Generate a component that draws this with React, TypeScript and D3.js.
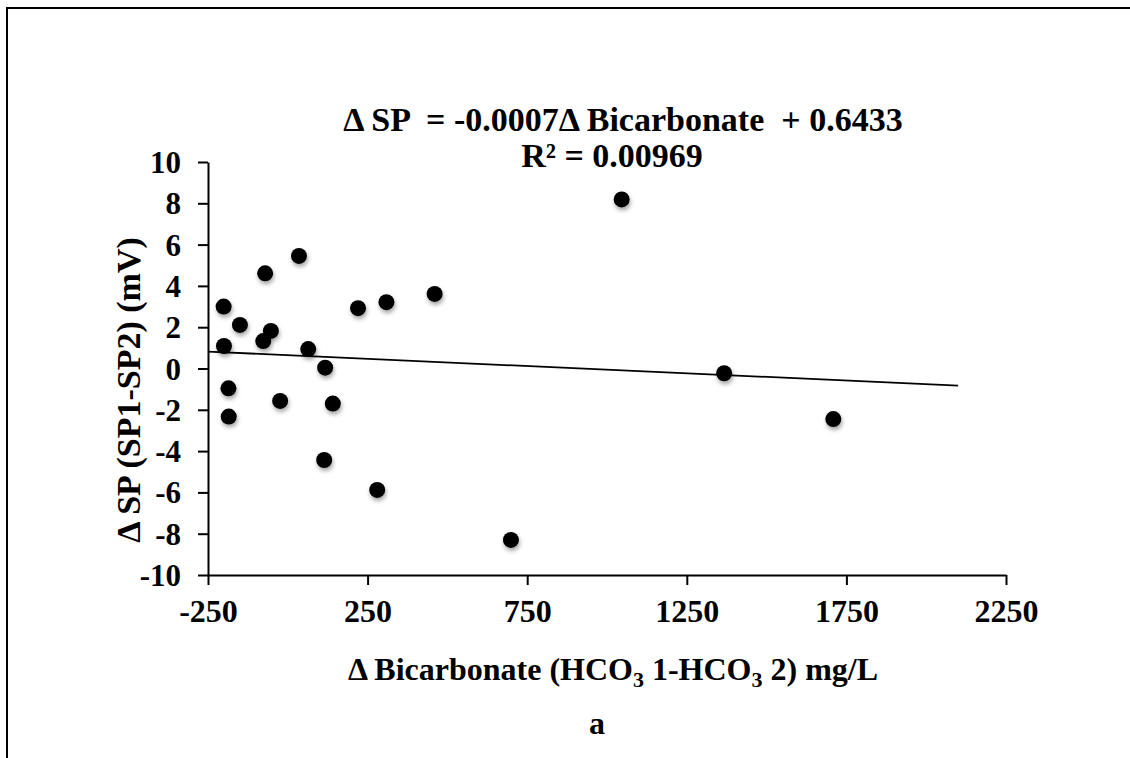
import React, { useEffect, useRef } from "react";
import * as d3 from "d3";

const xValues = [-201, -200, -186, -185, -150, -71, -77, -53, -24, 35, 64, 117, 141, 114, 220, 309, 280, 460, 699, 1046, 1367, 1709];
const yValues = [3.0, 1.09, -0.96, -2.33, 2.11, 4.61, 1.33, 1.82, -1.57, 5.45, 0.94, 0.04, -1.7, -4.43, 2.92, 3.21, -5.88, 3.61, -8.3, 8.19, -0.23, -2.45];
const xTicks = [-250, 250, 750, 1250, 1750, 2250];
const yTicks = [-10, -8, -6, -4, -2, 0, 2, 4, 6, 8, 10];
const trendSlope = -0.0007;
const trendIntercept = 0.6433;
const trendRange = [-250, 2100];
const equationText = "Δ SP  = -0.0007Δ Bicarbonate  + 0.6433";
const r2Text = "R² = 0.00969";

const W = 1130;
const H = 758;
const FONT = "'Liberation Serif', 'Times New Roman', serif";

export default function App() {
  const ref = useRef<SVGSVGElement>(null);

  useEffect(() => {
    const svg = d3.select(ref.current);
    svg.selectAll("*").remove();

    const x = d3.scaleLinear().domain([-250, 2250]).range([208, 1006]);
    const y = d3.scaleLinear().domain([-10, 10]).range([575, 162]);

    const defs = svg.append("defs");
    const f = defs.append("filter").attr("id", "shadow").attr("x", "-50%").attr("y", "-50%").attr("width", "200%").attr("height", "200%");
    f.append("feDropShadow").attr("dx", 1).attr("dy", 3).attr("stdDeviation", 2).attr("flood-color", "#000").attr("flood-opacity", 0.35);

    svg.append("rect").attr("width", W).attr("height", H).attr("fill", "#fff");

    // border (top and left)
    svg.append("path").attr("d", `M7,${H + 5} L7,8 L${W + 5},8`).attr("fill", "none").attr("stroke", "#000").attr("stroke-width", 2);

    const fmt = (d: any) => String(d);

    // y axis
    const yAxis = svg.append("g").attr("transform", `translate(${x(-250)},0)`)
      .call(d3.axisLeft(y).tickValues(yTicks).tickSize(10).tickSizeOuter(0).tickPadding(17).tickFormat(fmt));
    yAxis.select(".domain").attr("stroke", "#000").attr("stroke-width", 2);
    yAxis.selectAll(".tick line").attr("stroke", "#000").attr("stroke-width", 2);
    yAxis.selectAll(".tick text").attr("font-family", FONT).attr("font-weight", "bold").attr("font-size", 31).attr("fill", "#000").attr("dy", "0.34em");

    // x axis
    const xAxis = svg.append("g").attr("transform", `translate(0,${y(-10)})`)
      .call(d3.axisBottom(x).tickValues(xTicks).tickSize(10).tickSizeOuter(0).tickPadding(14).tickFormat(fmt));
    xAxis.select(".domain").attr("stroke", "#000").attr("stroke-width", 2);
    xAxis.selectAll(".tick line").attr("stroke", "#000").attr("stroke-width", 2);
    xAxis.selectAll(".tick text").attr("font-family", FONT).attr("font-weight", "bold").attr("font-size", 32).attr("fill", "#000");

    // trendline
    const line = d3.line<number>().x((d) => x(d)).y((d) => y(trendSlope * d + trendIntercept));
    svg.append("path").datum(trendRange).attr("d", line).attr("fill", "none").attr("stroke", "#000").attr("stroke-width", 1.8);

    // points
    svg.append("g").selectAll("circle").data(xValues.map((v, i) => [v, yValues[i]]))
      .join("circle")
      .attr("cx", (d) => x(d[0]))
      .attr("cy", (d) => y(d[1]))
      .attr("r", 8)
      .attr("fill", "#000")
      .attr("filter", "url(#shadow)");

    // equation
    const eq = svg.append("g").attr("font-family", FONT).attr("font-weight", "bold").attr("font-size", 34).attr("fill", "#000").attr("text-anchor", "middle").style("white-space", "pre");
    eq.append("text").attr("x", 623).attr("y", 131).attr("xml:space", "preserve").text(equationText);
    eq.append("text").attr("x", 612).attr("y", 167).text(r2Text);

    // x label
    const xl = svg.append("text").attr("x", 613).attr("y", 680).attr("text-anchor", "middle")
      .attr("font-family", FONT).attr("font-weight", "bold").attr("font-size", 32).attr("fill", "#000");
    xl.append("tspan").text("Δ Bicarbonate (HCO");
    xl.append("tspan").attr("font-size", 22).attr("dy", 7).text("3");
    xl.append("tspan").attr("dy", -7).text(" 1-HCO");
    xl.append("tspan").attr("font-size", 22).attr("dy", 7).text("3");
    xl.append("tspan").attr("dy", -7).text(" 2) mg/L");

    // y label
    svg.append("text").attr("transform", `translate(140,390) rotate(-90)`).attr("text-anchor", "middle")
      .attr("font-family", FONT).attr("font-weight", "bold").attr("font-size", 34).attr("fill", "#000")
      .text("Δ SP (SP1-SP2) (mV)");

    // panel letter
    svg.append("text").attr("x", 597).attr("y", 734).attr("text-anchor", "middle")
      .attr("font-family", FONT).attr("font-weight", "bold").attr("font-size", 32).attr("fill", "#000").text("a");
  }, []);

  return (
    <svg ref={ref} width={W} height={H} style={{ position: "absolute", left: 0, top: 0, display: "block" }} />
  );
}
